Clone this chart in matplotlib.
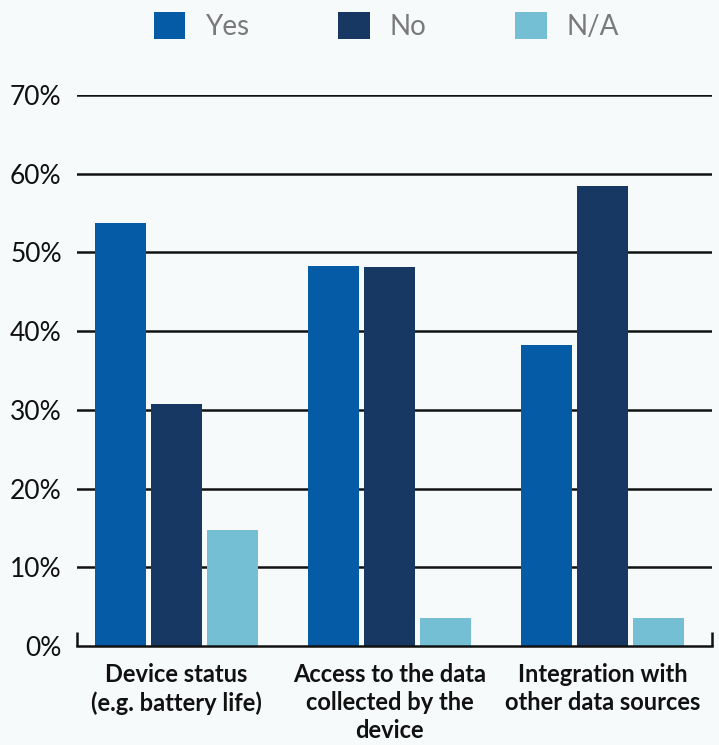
import matplotlib
matplotlib.use("Agg")
import matplotlib.pyplot as plt
import matplotlib.transforms as mtransforms
from matplotlib.patches import Patch
import numpy as np

categories = ["Device status\n(e.g. battery life)",
              "Access to the data\ncollected by the\ndevice",
              "Integration with\nother data sources"]
series_names = ["Yes", "No", "N/A"]
yes_vals = [53.7, 48.3, 38.3]
no_vals = [30.8, 48.2, 58.4]
na_vals = [14.8, 3.5, 3.5]
y_ticks = [0, 10, 20, 30, 40, 50, 60, 70]
y_tick_labels = ["0%", "10%", "20%", "30%", "40%", "50%", "60%", "70%"]

colors = ["#055ba6", "#173862", "#74bfd3"]
bg = "#f7fafb"

plt.rcParams['font.family'] = ['Lato', 'DejaVu Sans']

fig = plt.figure(figsize=(7.19, 7.45), dpi=100, facecolor=bg)
W, H = 719, 745
ax = fig.add_axes([77 / W, 1 - 646 / H, (712 - 77) / W, (646 - 95) / H])
ax.set_facecolor(bg)

x = np.arange(len(categories))
bw = 0.2394
off = 0.265
for i, (vals, c) in enumerate(zip([yes_vals, no_vals, na_vals], colors)):
    ax.bar(x + (i - 1) * off, vals, width=bw, color=c, zorder=3, label=series_names[i])

ax.set_ylim(0, 70)
ax.set_xlim(-0.467, 2.514)
ax.set_yticks(y_ticks)
ax.set_yticklabels(y_tick_labels, fontsize=19, color="#111111")
ax.tick_params(axis='y', length=0, pad=11)
ax.set_xticks(x)
ax.set_xticklabels(categories, fontsize=17, fontweight='bold', color="#111111",
                   linespacing=1.28)
ax.tick_params(axis='x', length=0, pad=12)

for t in y_ticks[1:]:
    ax.axhline(t, color="#111111", linewidth=1.8, zorder=1)

for s in ['left', 'right', 'top']:
    ax.spines[s].set_visible(False)
ax.spines['bottom'].set_color("#111111")
ax.spines['bottom'].set_linewidth(1.8)
ax.spines['bottom'].set_zorder(4)

trans = mtransforms.blended_transform_factory(ax.transAxes, ax.transData)
for xe in [0, 1]:
    ax.plot([xe, xe], [0, 1.75], transform=trans, color="#111111", linewidth=1.8,
            clip_on=False, zorder=4, solid_capstyle='butt')

handles = [Patch(facecolor=c, edgecolor='none') for c in colors]
leg = fig.legend(handles, series_names, loc='center', bbox_to_anchor=(0.537, 1 - 26 / H),
                 ncol=3, frameon=False, fontsize=20, handlelength=1.15, handleheight=1.15,
                 handletextpad=0.7, columnspacing=3.2)
for t in leg.get_texts():
    t.set_color("#7a7a7a")

fig.savefig("out.png", dpi=100, facecolor=bg)
